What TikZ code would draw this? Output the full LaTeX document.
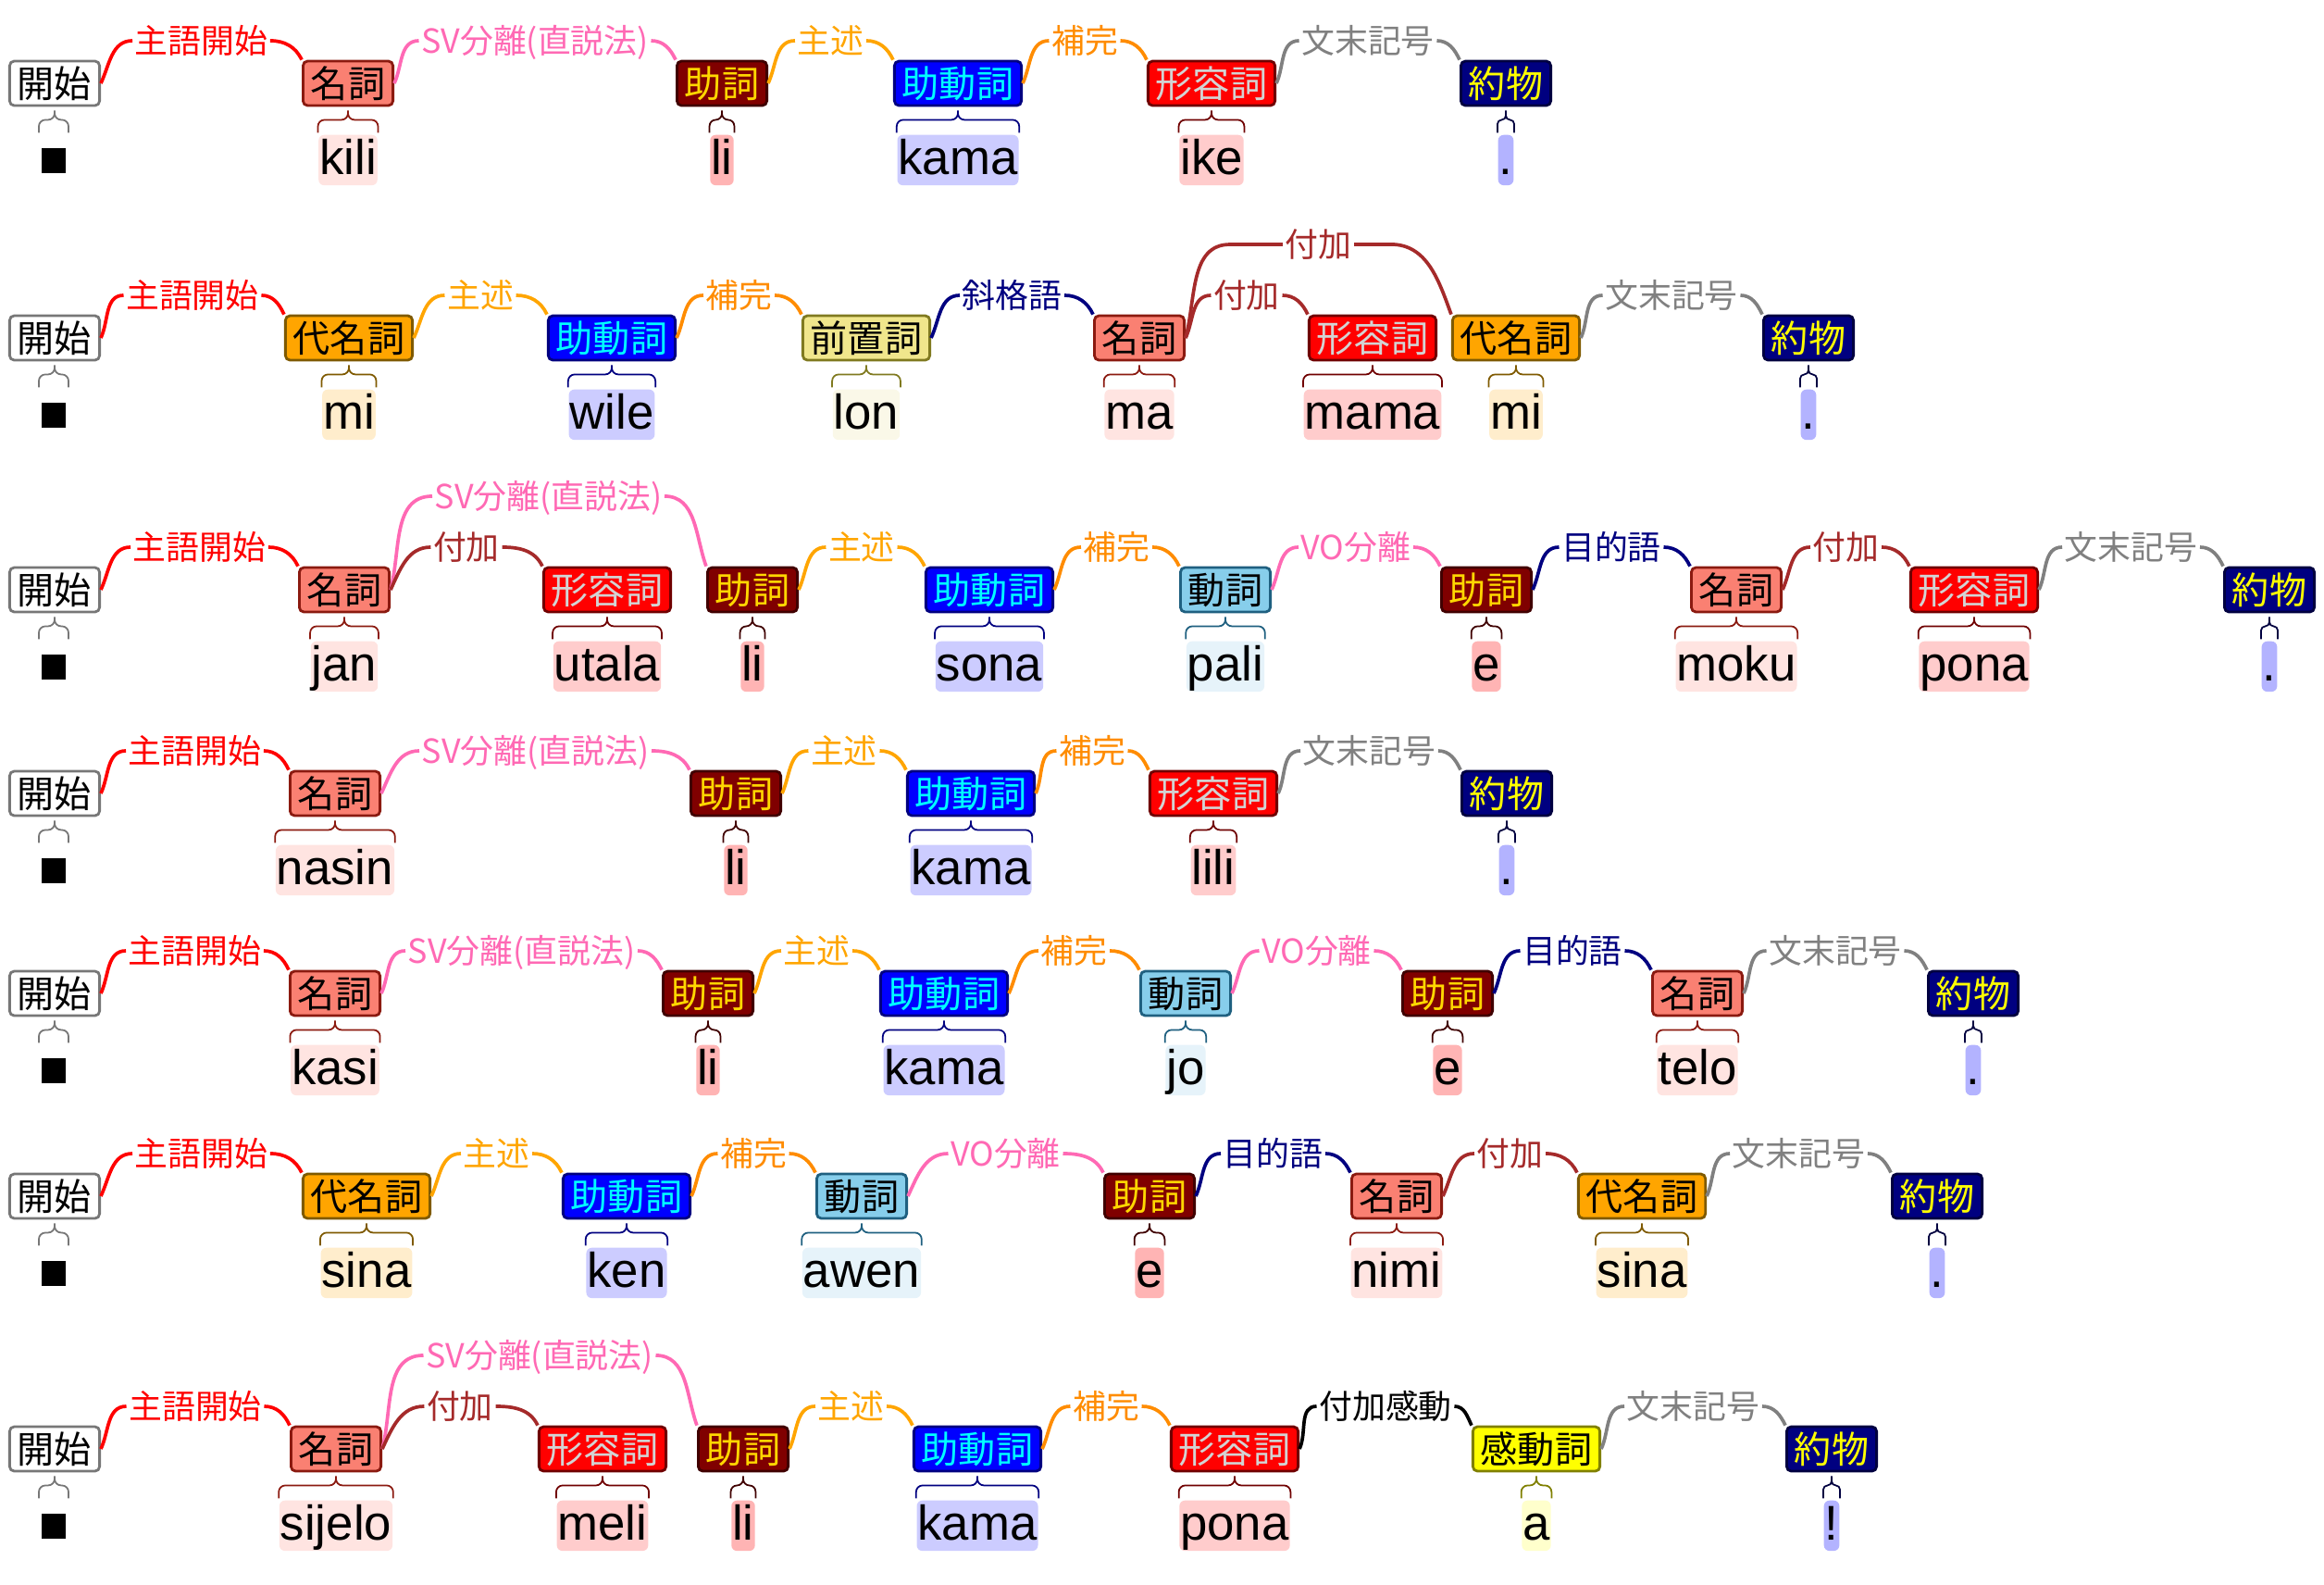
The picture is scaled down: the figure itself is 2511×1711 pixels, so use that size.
\documentclass[tikz,border=0pt]{standalone}
\usepackage{fontspec}
\setmainfont{Noto Sans CJK JP}
\newfontfamily\wordfont{Liberation Sans}
\usetikzlibrary{calc}
% box colours
\definecolor{kaishiD}{HTML}{777777}
\definecolor{meishiF}{HTML}{FA8072}\definecolor{meishiD}{HTML}{8B1A10}\definecolor{meishiW}{HTML}{FFE4E1}
\definecolor{joshiF}{HTML}{800000}\definecolor{joshiD}{HTML}{400000}\definecolor{joshiT}{HTML}{FFD700}\definecolor{joshiW}{HTML}{FFB4B4}
\definecolor{jodoushiF}{HTML}{0000FF}\definecolor{jodoushiD}{HTML}{000080}\definecolor{jodoushiT}{HTML}{00FFFF}\definecolor{jodoushiW}{HTML}{CCCCFF}
\definecolor{keiyoushiF}{HTML}{FF0000}\definecolor{keiyoushiD}{HTML}{700000}\definecolor{keiyoushiT}{HTML}{D3D3D3}\definecolor{keiyoushiW}{HTML}{FFCCCC}
\definecolor{yakubutsuF}{HTML}{000080}\definecolor{yakubutsuD}{HTML}{000040}\definecolor{yakubutsuT}{HTML}{FFFF00}\definecolor{yakubutsuW}{HTML}{B3B3FF}
\definecolor{daimeishiF}{HTML}{FFA500}\definecolor{daimeishiD}{HTML}{7F5A00}\definecolor{daimeishiW}{HTML}{FFEDCC}
\definecolor{zenchishiF}{HTML}{F0E68C}\definecolor{zenchishiD}{HTML}{807A20}\definecolor{zenchishiW}{HTML}{FAF8E8}
\definecolor{doushiF}{HTML}{87CEEB}\definecolor{doushiD}{HTML}{1F6080}\definecolor{doushiW}{HTML}{E6F3FA}
\definecolor{kandoushiF}{HTML}{FFFF00}\definecolor{kandoushiD}{HTML}{808000}\definecolor{kandoushiW}{HTML}{FFFFCC}
% connector colours
\definecolor{subC}{HTML}{FF0000}
\definecolor{svC}{HTML}{FF69B4}
\definecolor{predC}{HTML}{FFA500}
\definecolor{compC}{HTML}{FF8C00}
\definecolor{endC}{HTML}{808080}
\definecolor{oblC}{HTML}{000080}
\definecolor{addC}{HTML}{A52A2A}
\tikzset{
  box/.style={draw, rounded corners=0.05cm, line width=0.8pt, minimum height=0.48cm,
    inner xsep=0.085cm, inner ysep=0pt, font=\fontsize{11.4}{12}\selectfont,
    text height=10pt, text depth=1.4pt},
  word/.style={rounded corners=0.06cm, inner xsep=0.01cm, inner ysep=0.01cm, anchor=north,
    font=\wordfont\fontsize{15}{17}\selectfont, text height=11.9pt, text depth=3pt},
  lab/.style={inner xsep=0.02cm, inner ysep=0pt, font=\fontsize{10.2}{12}\selectfont,
    text height=9pt, text depth=1.2pt},
  con/.style={line width=1.05pt},
  brc/.style={line width=0.5pt},
  kaishi/.style={box, fill=white, draw=kaishiD, text=black},
  meishi/.style={box, fill=meishiF, draw=meishiD, text=black},
  wmeishi/.style={fill=meishiW}, bmeishi/.style={draw=meishiD},
  joshi/.style={box, fill=joshiF, draw=joshiD, text=joshiT},
  wjoshi/.style={fill=joshiW}, bjoshi/.style={draw=joshiD},
  jodoushi/.style={box, fill=jodoushiF, draw=jodoushiD, text=jodoushiT},
  wjodoushi/.style={fill=jodoushiW}, bjodoushi/.style={draw=jodoushiD},
  keiyoushi/.style={box, fill=keiyoushiF, draw=keiyoushiD, text=keiyoushiT},
  wkeiyoushi/.style={fill=keiyoushiW}, bkeiyoushi/.style={draw=keiyoushiD},
  yakubutsu/.style={box, fill=yakubutsuF, draw=yakubutsuD, text=yakubutsuT},
  wyakubutsu/.style={fill=yakubutsuW}, byakubutsu/.style={draw=yakubutsuD},
  daimeishi/.style={box, fill=daimeishiF, draw=daimeishiD, text=black},
  wdaimeishi/.style={fill=daimeishiW}, bdaimeishi/.style={draw=daimeishiD},
  zenchishi/.style={box, fill=zenchishiF, draw=zenchishiD, text=black},
  wzenchishi/.style={fill=zenchishiW}, bzenchishi/.style={draw=zenchishiD},
  doushi/.style={box, fill=doushiF, draw=doushiD, text=black},
  wdoushi/.style={fill=doushiW}, bdoushi/.style={draw=doushiD},
  kandoushi/.style={box, fill=kandoushiF, draw=kandoushiD, text=black},
  wkandoushi/.style={fill=kandoushiW}, bkandoushi/.style={draw=kandoushiD},
  csub/.style={color=subC}, csv/.style={color=svC}, cpred/.style={color=predC},
  ccomp/.style={color=compC}, cend/.style={color=endC}, cobl/.style={color=oblC},
  cadd/.style={color=addC}, cint/.style={color=black},
}
\newcommand\wbrace[3]{%
  \draw[brc,#3] let \p1=(#2.west), \p2=(#2.east), \p3=(#1.south),
     \n1={min(2pt,(\x2-\x1)/4)} in
     [rounded corners=\n1]
     (\x1,\y3-0.28cm) -- (\x1,\y3-0.14cm) -- (\x3,\y3-0.14cm) -- (\x3,\y3-0.04cm)
     (\x2,\y3-0.28cm) -- (\x2,\y3-0.14cm) -- (\x3,\y3-0.14cm) -- (\x3,\y3-0.04cm);}
\newcommand\tok[6]{%
  \node[#2] (#1) at (#3,-#4) {#5};
  \node[word, w#2] (#1w) at (#3,-#4-55) {#6};
  \wbrace{#1}{#1w}{b#2}}
\newcommand\start[2]{%
  \node[kaishi] (#1) at (59,-#2) {開始};
  \node[fill=black, inner sep=0pt, minimum width=0.26cm, minimum height=0.27cm, outer xsep=0.03cm] (#1w) at (58,-#2-83) {};
  \wbrace{#1}{#1w}{draw=kaishiD}}
\newcommand\conn[5]{%
  \path (#2.east) -- (#3.west) node[midway, yshift=0.46cm, lab, #1] (#5) {#4};
  \draw[con, #1] (#2.east) to[out=65,in=180] (#5.west) (#5.east) to[out=0,in=115] (#3.north west);}
\newcommand\connup[5]{%
  \path (#2.east) -- (#3.west) node[midway, yshift=1.01cm, lab, #1] (#5) {#4};
  \draw[con, #1] (#2.east) to[out=75,in=180] (#5.west) (#5.east) to[out=0,in=110] (#3.north west);}
\begin{document}
\begin{tikzpicture}[x=0.01cm, y=0.01cm]
\fill[white] (0,0) rectangle (2511,-1711);
\useasboundingbox (0,0) rectangle (2511,-1711);
% Row 1
\start{a0}{90}
\tok{a1}{meishi}{376}{90}{名詞}{kili}
\tok{a2}{joshi}{780}{90}{助詞}{li}
\tok{a3}{jodoushi}{1035}{90}{助動詞}{kama}
\tok{a4}{keiyoushi}{1309}{90}{形容詞}{ike}
\tok{a5}{yakubutsu}{1627}{90}{約物}{.}
\conn{csub}{a0}{a1}{主語開始}{a01}
\conn{csv}{a1}{a2}{SV分離(直説法)}{a12}
\conn{cpred}{a2}{a3}{主述}{a23}
\conn{ccomp}{a3}{a4}{補完}{a34}
\conn{cend}{a4}{a5}{文末記号}{a45}
% Row 2
\start{b0}{365}
\tok{b1}{daimeishi}{377}{365}{代名詞}{mi}
\tok{b2}{jodoushi}{661}{365}{助動詞}{wile}
\tok{b3}{zenchishi}{936}{365}{前置詞}{lon}
\tok{b4}{meishi}{1231}{365}{名詞}{ma}
\tok{b5}{keiyoushi}{1483}{365}{形容詞}{mama}
\tok{b6}{daimeishi}{1638}{365}{代名詞}{mi}
\tok{b7}{yakubutsu}{1954}{365}{約物}{.}
\conn{csub}{b0}{b1}{主語開始}{b01}
\conn{cpred}{b1}{b2}{主述}{b12}
\conn{ccomp}{b2}{b3}{補完}{b23}
\conn{cobl}{b3}{b4}{斜格語}{b34}
\conn{cadd}{b4}{b5}{付加}{b45}
\path (b4.east) -- (b6.west) node[midway, yshift=1.01cm, lab, cadd] (b46) {付加};
\draw[con, cadd] (b4.east) to[out=75,in=180] ++(48,101) -- (b46.west)
  (b46.east) -- ++(40,0) to[out=0,in=110] (b6.north west);
\conn{cend}{b6}{b7}{文末記号}{b67}
% Row 3
\start{c0}{637}
\tok{c1}{meishi}{372}{637}{名詞}{jan}
\tok{c2}{keiyoushi}{656}{637}{形容詞}{utala}
\tok{c3}{joshi}{813}{637}{助詞}{li}
\tok{c4}{jodoushi}{1069}{637}{助動詞}{sona}
\tok{c5}{doushi}{1324}{637}{動詞}{pali}
\tok{c6}{joshi}{1606}{637}{助詞}{e}
\tok{c7}{meishi}{1876}{637}{名詞}{moku}
\tok{c8}{keiyoushi}{2133}{637}{形容詞}{pona}
\tok{c9}{yakubutsu}{2452}{637}{約物}{.}
\conn{csub}{c0}{c1}{主語開始}{c01}
\connup{csv}{c1}{c3}{SV分離(直説法)}{c13}
\conn{cadd}{c1}{c2}{付加}{c12}
\conn{cpred}{c3}{c4}{主述}{c34}
\conn{ccomp}{c4}{c5}{補完}{c45}
\conn{csv}{c5}{c6}{VO分離}{c56}
\conn{cobl}{c6}{c7}{目的語}{c67}
\conn{cadd}{c7}{c8}{付加}{c78}
\conn{cend}{c8}{c9}{文末記号}{c89}
% Row 4
\start{d0}{857}
\tok{d1}{meishi}{362}{857}{名詞}{nasin}
\tok{d2}{joshi}{795}{857}{助詞}{li}
\tok{d3}{jodoushi}{1049}{857}{助動詞}{kama}
\tok{d4}{keiyoushi}{1311}{857}{形容詞}{lili}
\tok{d5}{yakubutsu}{1628}{857}{約物}{.}
\conn{csub}{d0}{d1}{主語開始}{d01}
\conn{csv}{d1}{d2}{SV分離(直説法)}{d12}
\conn{cpred}{d2}{d3}{主述}{d23}
\conn{ccomp}{d3}{d4}{補完}{d34}
\conn{cend}{d4}{d5}{文末記号}{d45}
% Row 5
\start{e0}{1073}
\tok{e1}{meishi}{362}{1073}{名詞}{kasi}
\tok{e2}{joshi}{765}{1073}{助詞}{li}
\tok{e3}{jodoushi}{1020}{1073}{助動詞}{kama}
\tok{e4}{doushi}{1281}{1073}{動詞}{jo}
\tok{e5}{joshi}{1564}{1073}{助詞}{e}
\tok{e6}{meishi}{1834}{1073}{名詞}{telo}
\tok{e7}{yakubutsu}{2132}{1073}{約物}{.}
\conn{csub}{e0}{e1}{主語開始}{e01}
\conn{csv}{e1}{e2}{SV分離(直説法)}{e12}
\conn{cpred}{e2}{e3}{主述}{e23}
\conn{ccomp}{e3}{e4}{補完}{e34}
\conn{csv}{e4}{e5}{VO分離}{e45}
\conn{cobl}{e5}{e6}{目的語}{e56}
\conn{cend}{e6}{e7}{文末記号}{e67}
% Row 6
\start{f0}{1292}
\tok{f1}{daimeishi}{396}{1292}{代名詞}{sina}
\tok{f2}{jodoushi}{677}{1292}{助動詞}{ken}
\tok{f3}{doushi}{931}{1292}{動詞}{awen}
\tok{f4}{joshi}{1242}{1292}{助詞}{e}
\tok{f5}{meishi}{1509}{1292}{名詞}{nimi}
\tok{f6}{daimeishi}{1774}{1292}{代名詞}{sina}
\tok{f7}{yakubutsu}{2093}{1292}{約物}{.}
\conn{csub}{f0}{f1}{主語開始}{f01}
\conn{cpred}{f1}{f2}{主述}{f12}
\conn{ccomp}{f2}{f3}{補完}{f23}
\conn{csv}{f3}{f4}{VO分離}{f34}
\conn{cobl}{f4}{f5}{目的語}{f45}
\conn{cadd}{f5}{f6}{付加}{f56}
\conn{cend}{f6}{f7}{文末記号}{f67}
% Row 7
\start{g0}{1565}
\tok{g1}{meishi}{363}{1565}{名詞}{sijelo}
\tok{g2}{keiyoushi}{651}{1565}{形容詞}{meli}
\tok{g3}{joshi}{803}{1565}{助詞}{li}
\tok{g4}{jodoushi}{1056}{1565}{助動詞}{kama}
\tok{g5}{keiyoushi}{1334}{1565}{形容詞}{pona}
\tok{g6}{kandoushi}{1660}{1565}{感動詞}{a}
\tok{g7}{yakubutsu}{1979}{1565}{約物}{!}
\conn{csub}{g0}{g1}{主語開始}{g01}
\connup{csv}{g1}{g3}{SV分離(直説法)}{g13}
\conn{cadd}{g1}{g2}{付加}{g12}
\conn{cpred}{g3}{g4}{主述}{g34}
\conn{ccomp}{g4}{g5}{補完}{g45}
\conn{cint}{g5}{g6}{付加感動}{g56}
\conn{cend}{g6}{g7}{文末記号}{g67}
\end{tikzpicture}
\end{document}
